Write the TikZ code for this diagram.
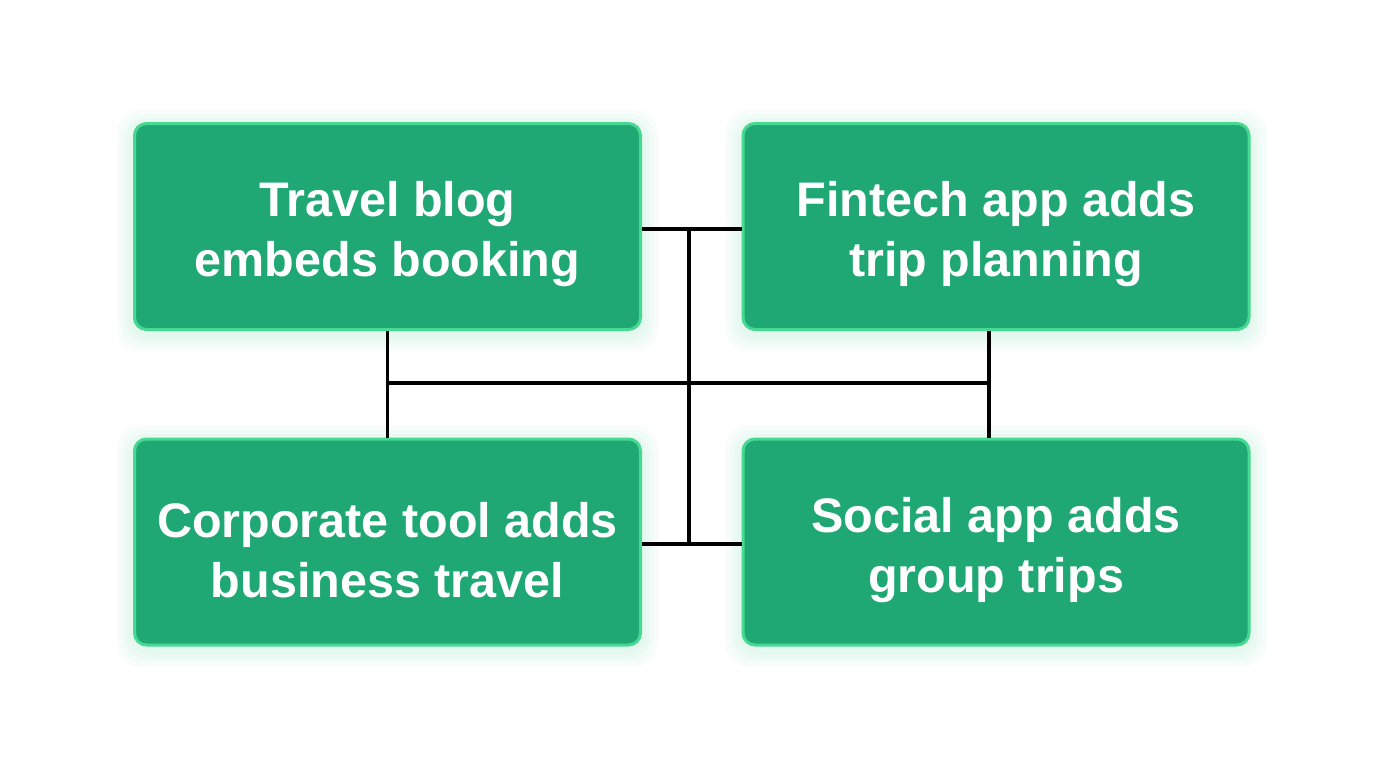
\documentclass[tikz,border=0pt]{standalone}
\usepackage{fontspec}
\setmainfont{Liberation Sans}
\begin{document}
\begin{tikzpicture}[x=1pt,y=-1pt,
  card/.style={draw=boxedge, fill=boxfill, line width=3pt, rounded corners=12pt,
    minimum width=506pt, minimum height=206pt},
  cardtext/.style={text=white, align=center,
    font=\fontsize{48.5}{60}\selectfont\bfseries},
  link/.style={draw=black, line width=3.2pt}]
\definecolor{boxfill}{HTML}{1FA774}
\definecolor{boxedge}{HTML}{45D992}
\definecolor{glow}{HTML}{8FE8BE}
\useasboundingbox (0,0) rectangle (1376,768);
\fill[white] (0,0) rectangle (1376,768);
% glow
\foreach \cx/\cy in {387.5/226.5, 996/226.5, 387.5/542, 996/542}{
  \foreach \g in {16,12,8,4}{
    \fill[glow, opacity=0.06, rounded corners=22pt]
      (\cx-254.5-\g,\cy-104.5-\g+4) rectangle (\cx+254.5+\g,\cy+104.5+\g+4);
  }
}
\node[card] (tl) at (387.5,226.5) {};
\node[card] (tr) at (996,226.5) {};
\node[card] (bl) at (387.5,542) {};
\node[card] (br) at (996,542) {};
\node[cardtext] (tlt) at ([yshift=-8pt]tl.center) {Travel blog\\embeds booking};
\node[cardtext] (trt) at ([yshift=-8pt]tr.center) {Fintech app adds\\trip planning};
\node[cardtext] (blt) at ([yshift=-8pt]bl.center) {Corporate tool adds\\business travel};
\node[cardtext] (brt) at ([yshift=-8pt]br.center) {Social app adds\\group trips};
\coordinate (j1) at (689,229);
\coordinate (j2) at (689,544);
\coordinate (hl) at (387.5,383);
\coordinate (hr) at (989,383);
\draw[link] (tl.east |- j1) -- (tr.west |- j1);
\draw[link] (bl.east |- j2) -- (br.west |- j2);
\draw[link] (j1) -- (j2);
\draw[link] (tl.south) -- (bl.north);
\draw[link] (hr |- tr.south) -- (hr |- br.north);
\draw[link] (hl) -- (hr);
\end{tikzpicture}
\end{document}
